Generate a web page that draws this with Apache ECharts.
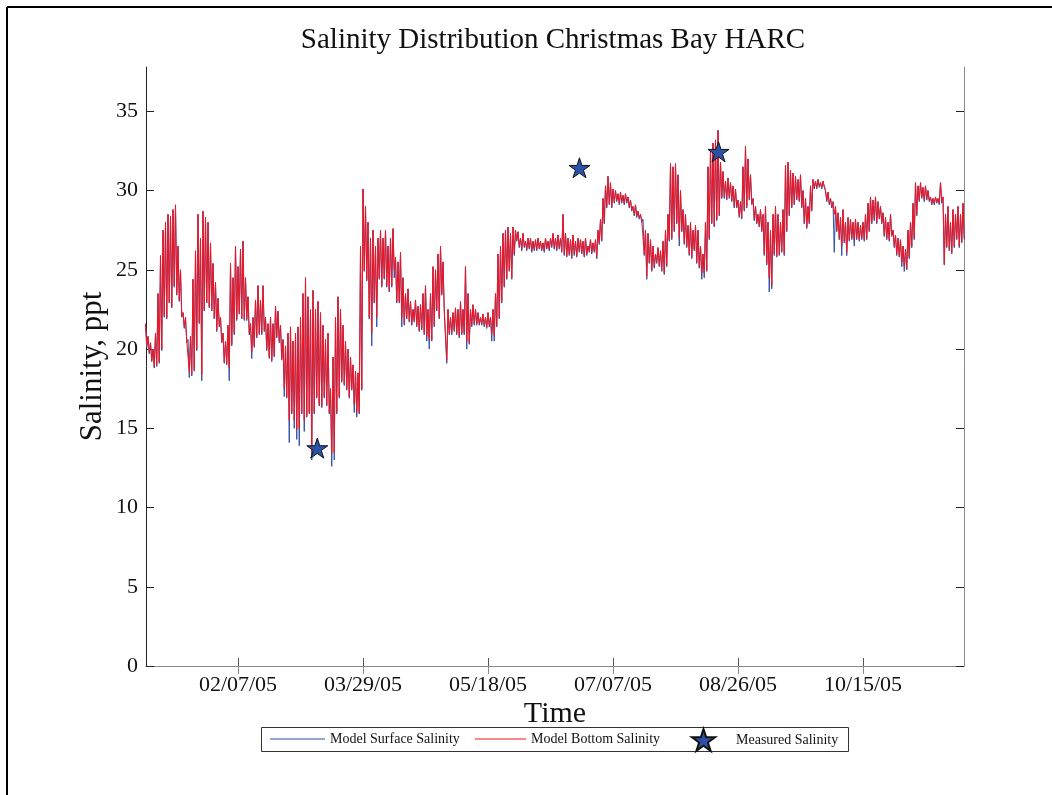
<!DOCTYPE html>
<html>
<head>
<meta charset="utf-8">
<script src="https://cdn.jsdelivr.net/npm/echarts@6/dist/echarts.min.js"></script>
<style>
  html, body { margin: 0; padding: 0; background: #fff; }
  #chart { width: 1052px; height: 795px; }
</style>
</head>
<body>
<div id="chart"></div>
<script>
// ---- data ----
const startDate = '2005-01-01';
const tickLabels = ['02/07/05', '03/29/05', '05/18/05', '07/07/05', '08/26/05', '10/15/05'];
const yTicks = [0, 5, 10, 15, 20, 25, 30, 35];

// daily high / low of the model bottom salinity (ppt), day 0 = Jan 1 2005
const bottomHi = [
  21.6,20.8,20.4,20.0,21.0,23.5,25.9,27.5,28.0,28.5,
  28.4,28.8,29.1,26.5,25.0,22.3,22.0,20.6,20.8,24.4,
  26.2,28.5,27.0,28.7,28.3,28.0,26.7,25.4,24.2,23.2,
  22.0,21.0,20.5,21.5,25.4,24.5,26.5,25.2,26.3,26.8,
  24.5,23.3,21.6,22.0,23.1,24.0,23.1,24.0,22.0,21.6,
  22.0,21.6,22.7,22.4,21.5,20.6,20.2,21.0,21.4,20.5,
  21.0,21.4,22.0,23.5,24.5,23.3,22.5,23.7,22.5,23.0,
  22.3,21.5,20.6,21.0,17.5,19.5,22.0,23.3,22.5,21.5,
  20.5,20.0,19.5,19.0,18.6,18.5,26.5,30.1,29.0,28.0,
  27.0,27.5,26.5,27.0,27.5,27.0,27.5,26.5,27.0,27.6,
  25.8,25.5,26.1,24.5,23.5,23.8,23.0,22.5,23.1,22.7,
  22.8,23.5,24.0,22.5,23.5,25.2,25.0,26.0,26.5,25.5,
  22.5,22.5,22.0,22.3,22.6,22.5,23.0,22.5,25.2,23.5,
  22.5,22.8,22.5,22.3,22.0,22.2,22.0,22.3,22.0,22.5,
  23.5,26.0,26.5,27.3,27.5,27.7,27.3,27.7,27.5,27.4,
  27.0,27.3,26.8,27.0,27.0,26.8,26.9,27.0,26.8,26.7,
  27.0,26.8,27.0,27.3,27.0,27.2,27.0,28.5,27.3,27.0,
  26.9,27.2,26.8,27.0,26.9,26.8,27.0,26.5,26.9,26.7,
  26.9,27.5,28.2,29.5,30.3,30.9,30.5,30.1,30.0,29.8,
  29.9,29.7,29.8,29.6,29.4,29.0,29.1,28.7,28.5,28.2,
  27.5,27.3,26.9,26.5,26.0,26.4,26.2,26.8,27.5,28.5,
  31.7,31.5,31.7,31.0,30.0,28.8,28.5,27.8,28.0,27.5,
  27.8,27.5,26.5,26.0,28.0,31.5,32.6,33.0,33.2,33.8,
  31.8,31.2,30.6,30.8,30.5,30.3,30.1,29.4,29.3,31.5,
  32.8,32.0,31.0,29.5,29.0,28.5,28.8,28.5,29.0,28.0,
  27.5,28.5,29.0,28.5,28.0,28.8,31.6,31.8,31.3,31.1,
  30.9,30.7,31.0,30.0,29.5,29.0,30.3,30.7,30.6,30.7,
  30.5,30.6,30.0,29.9,29.5,29.3,29.0,28.6,28.3,28.8,
  28.0,28.3,28.2,28.0,28.2,28.0,27.8,28.0,28.5,29.2,
  29.6,29.4,29.6,29.3,29.0,28.6,28.3,28.0,28.5,27.5,
  27.2,27.0,26.9,26.5,26.3,27.5,28.0,29.2,30.5,30.3,
  30.5,30.2,30.3,30.0,29.6,29.5,29.6,29.5,30.5,29.6,
  28.5,29.0,28.0,28.8,28.5,29.0,28.5,29.2
];
const bottomLo = [
  20.2,19.8,19.3,18.9,19.0,19.2,20.0,22.1,22.0,23.0,
  22.7,24.0,23.5,23.1,22.1,21.4,20.5,18.6,18.4,18.7,
  20.0,21.7,18.4,22.5,23.0,22.7,22.5,22.0,21.2,21.5,
  20.5,19.2,19.1,18.8,20.3,21.0,21.9,22.3,22.0,21.9,
  21.9,21.0,19.8,20.2,20.8,21.0,21.0,21.2,20.0,19.5,
  19.3,19.6,20.8,20.5,19.4,17.5,17.0,15.5,16.0,15.5,
  14.9,15.0,16.0,15.5,15.8,16.0,13.5,16.0,17.0,16.5,
  16.4,17.0,16.5,16.0,13.4,13.5,16.0,17.0,18.0,17.8,
  17.5,17.0,17.5,16.5,16.0,16.0,17.5,25.0,24.4,22.0,
  21.0,23.0,22.0,24.5,24.0,24.5,24.0,23.7,24.0,25.0,
  23.0,23.0,22.0,21.6,22.0,21.8,21.6,21.8,21.5,21.2,
  21.3,21.0,20.8,20.6,20.6,21.5,22.5,22.0,23.5,22.5,
  19.3,21.0,21.0,21.2,21.0,20.8,21.0,21.0,20.5,20.4,
  21.5,21.6,21.6,21.6,21.6,21.5,21.4,21.5,21.0,20.8,
  21.5,22.0,23.0,24.0,24.5,25.0,24.5,26.0,26.9,26.5,
  26.3,26.5,26.3,26.4,26.2,26.3,26.3,26.4,26.3,26.2,
  26.4,26.3,26.5,26.4,26.3,26.4,26.2,26.0,25.9,26.0,
  25.8,26.0,25.9,26.2,26.1,25.9,26.0,26.2,26.1,26.2,
  25.8,26.7,26.9,28.0,29.0,29.2,29.0,29.3,29.4,29.2,
  29.3,29.2,29.3,29.0,28.8,28.5,28.4,28.3,28.1,26.0,
  24.6,25.5,25.0,25.2,25.5,25.3,25.0,24.8,25.3,26.9,
  27.0,27.5,28.0,27.0,27.5,26.7,26.5,26.0,25.8,26.3,
  25.5,25.2,24.8,24.8,25.0,27.0,28.0,27.8,28.2,28.5,
  29.6,29.6,29.5,29.6,29.4,29.0,29.0,28.4,28.3,28.8,
  29.0,29.5,29.2,28.2,28.0,27.8,27.5,26.0,25.4,24.5,
  24.0,26.0,25.9,26.0,26.2,26.0,27.5,28.5,29.0,29.2,
  29.5,29.4,29.0,28.0,27.7,28.0,28.8,30.2,30.2,30.3,
  30.2,30.3,29.4,29.2,29.0,28.5,27.5,27.0,26.5,26.8,
  26.1,26.9,27.0,26.9,27.0,26.9,27.0,26.9,27.0,27.5,
  28.0,28.2,28.0,28.3,28.0,27.2,27.0,26.9,27.2,26.5,
  26.0,25.9,25.5,25.2,25.1,25.8,26.5,27.0,28.5,29.4,
  29.6,29.4,29.5,29.4,29.2,29.2,29.3,29.2,29.3,25.4,
  26.5,26.3,26.1,26.5,27.0,26.5,26.8,27.0
];
// daily low of the model surface salinity (its highs are hidden under the bottom curve)
const surfaceLo = [
  20.1,19.7,19.2,18.8,18.9,19.1,19.9,22.0,21.9,22.9,
  22.6,23.9,23.4,23.0,22.0,21.3,20.4,18.2,18.3,18.6,
  19.9,21.6,18.0,22.4,22.9,22.6,22.4,21.9,21.1,21.4,
  20.4,19.1,19.0,18.0,20.2,20.9,21.8,22.2,21.9,21.8,
  21.8,20.9,19.4,20.1,20.7,20.9,20.9,21.1,19.9,19.4,
  19.2,19.5,20.7,20.4,19.3,17.0,16.9,14.1,15.9,15.0,
  14.3,13.9,15.9,14.8,15.7,15.9,13.0,15.9,16.9,16.4,
  16.3,16.9,16.4,15.9,12.6,13.0,15.9,16.9,17.9,17.7,
  17.4,16.9,17.4,16.0,15.7,15.9,17.4,24.9,24.3,21.9,
  20.2,22.9,21.4,24.4,23.9,24.4,23.9,23.6,23.9,24.5,
  22.9,22.9,21.4,21.5,21.9,21.7,21.5,21.7,21.4,21.1,
  21.2,20.9,20.5,20.0,20.5,21.4,22.4,21.9,23.4,22.4,
  19.1,20.9,20.9,21.1,20.9,20.7,20.9,20.9,20.0,20.3,
  21.4,21.5,21.5,21.5,21.5,21.4,21.3,21.4,20.5,20.5,
  21.4,21.9,22.9,23.9,24.4,24.9,24.4,25.9,26.8,26.4,
  26.2,26.4,26.2,26.3,26.1,26.2,26.2,26.3,26.2,26.1,
  26.3,26.2,26.4,26.3,26.2,26.3,26.1,25.9,25.8,25.9,
  25.7,25.9,25.8,26.1,26.0,25.8,25.9,26.1,26.0,26.1,
  25.7,26.6,26.8,27.9,28.9,29.1,28.9,29.2,29.3,29.1,
  29.2,29.1,29.2,28.9,28.7,28.4,28.3,28.2,28.0,25.9,
  24.4,25.4,24.9,25.1,25.4,25.2,24.9,24.7,25.2,26.8,
  26.9,27.4,27.9,26.5,27.4,26.6,26.4,25.9,25.7,26.2,
  25.4,25.1,24.4,24.5,24.9,26.9,27.9,27.7,28.1,28.4,
  29.5,29.5,29.4,29.5,29.3,28.9,28.9,28.3,28.2,28.7,
  28.9,29.4,29.1,28.1,27.9,27.7,27.4,25.9,25.3,23.6,
  23.8,25.9,25.8,25.9,26.1,25.9,27.4,28.4,28.9,29.1,
  29.4,29.3,28.9,27.9,27.6,27.9,28.7,30.1,30.1,30.2,
  30.1,30.2,29.3,29.1,28.9,26.1,27.4,26.9,25.9,26.7,
  25.9,26.8,26.9,26.5,26.9,26.8,26.9,26.8,26.9,27.4,
  27.9,28.1,27.9,28.2,27.9,27.1,26.9,26.8,27.1,26.4,
  25.9,25.8,25.2,24.9,25.0,25.7,26.4,26.9,28.4,29.3,
  29.5,29.3,29.4,29.3,29.1,29.1,29.2,29.1,29.2,25.3,
  26.4,26.2,26.0,26.4,26.9,26.4,26.7,26.9
];
const measuredDates = ['2005-03-10T17:00:00Z', '2005-06-23T14:00:00Z', '2005-08-18T05:00:00Z'];
const measuredValues = [13.75, 31.44, 32.45];

// ---- helpers ----
const DAY = 86400000;
const t0 = Date.parse(startDate + 'T00:00:00Z');
function labelToDay(lbl) {
  const [m, d, y] = lbl.split('/').map(Number);
  return (Date.UTC(2000 + y, m - 1, d) - t0) / DAY;
}
const tickDays = tickLabels.map(labelToDay);

const bottomPts = [];
const surfacePts = [];
for (let d = 0; d < bottomHi.length; d++) {
  bottomPts.push([d, bottomHi[d]], [d + 0.5, bottomLo[d]]);
  surfacePts.push([d, bottomHi[d]], [d + 0.5, surfaceLo[d]]);
}
const measuredPts = measuredDates.map((s, i) => [(Date.parse(s) - t0) / DAY, measuredValues[i]]);

const FONT = "'Liberation Serif', 'Times New Roman', serif";
const STAR = 'path://M100 0 L122.45 69.1 L195.1 69.1 L136.3 111.8 L158.8 180.9 L100 138.2 L41.2 180.9 L63.7 111.8 L4.9 69.1 L77.55 69.1 Z';
const LINE_ICON = 'path://M0 0 L100 0 L100 2 L0 2 Z';
const legendText = { fontFamily: FONT, fontSize: 14, color: '#111' };

const chart = echarts.init(document.getElementById('chart'), null, { renderer: 'canvas' });
chart.setOption({
  animation: false,
  backgroundColor: '#fff',
  title: {
    text: 'Salinity Distribution Christmas Bay HARC',
    left: 553, top: 26, textAlign: 'center', padding: 0,
    textStyle: { fontFamily: FONT, fontSize: 29, fontWeight: 'normal', color: '#111' }
  },
  grid: { left: 146, top: 67, width: 818, height: 599, containLabel: false },
  legend: [{
    left: 270, top: 732, padding: 0, itemWidth: 55, itemHeight: 22,
    textStyle: legendText,
    data: [{ name: 'Model Surface Salinity', icon: LINE_ICON }]
  }, {
    left: 475, top: 732, padding: 0, itemWidth: 51, itemHeight: 22,
    textStyle: legendText,
    data: [{ name: 'Model Bottom Salinity', icon: LINE_ICON }]
  }, {
    left: 691, top: 728, padding: 0, itemWidth: 23, itemHeight: 22,
    textStyle: Object.assign({ padding: [0, 0, 0, 16] }, legendText),
    data: [{ name: 'Measured Salinity' }]
  }],
  xAxis: [{
    type: 'value', position: 'bottom', min: 0.2, max: 327.4,
    axisLine: { show: true, lineStyle: { color: '#7a7a7a', width: 1 } },
    axisTick: { show: true, inside: true, length: 8, customValues: tickDays, lineStyle: { color: '#555' } },
    axisLabel: {
      customValues: tickDays, margin: 8,
      fontFamily: FONT, fontSize: 22, color: '#111',
      formatter: v => { const i = tickDays.findIndex(t => Math.abs(t - v) < 1e-6); return i >= 0 ? tickLabels[i] : ''; }
    },
    splitLine: { show: false },
    name: 'Time', nameLocation: 'middle', nameGap: 33, nameMoveOverlap: false,
    nameTextStyle: { fontFamily: FONT, fontSize: 30, color: '#111' }
  }, {
    type: 'value', position: 'top', min: 0.2, max: 327.4,
    axisLine: { show: true, lineStyle: { color: '#8a8a8a', width: 1 } },
    axisTick: { show: true, inside: true, length: 8, customValues: tickDays, lineStyle: { color: '#8a8a8a' } },
    axisLabel: { show: false }, splitLine: { show: false }
  }],
  yAxis: [{
    type: 'value', position: 'left', min: 0, max: 37.8,
    axisLine: { show: true, lineStyle: { color: '#222', width: 1 } },
    axisTick: { show: true, inside: true, length: 8, customValues: yTicks, lineStyle: { color: '#222' } },
    axisLabel: { customValues: yTicks, margin: 8, fontFamily: FONT, fontSize: 22, color: '#111' },
    splitLine: { show: false },
    name: 'Salinity, ppt', nameLocation: 'middle', nameGap: 38, nameMoveOverlap: false,
    nameTextStyle: { fontFamily: FONT, fontSize: 31, color: '#111' }
  }, {
    type: 'value', position: 'right', min: 0, max: 37.8,
    axisLine: { show: true, lineStyle: { color: '#8a8a8a', width: 1 } },
    axisTick: { show: true, inside: true, length: 8, customValues: yTicks, lineStyle: { color: '#222' } },
    axisLabel: { show: false }, splitLine: { show: false }
  }],
  graphic: [
    { type: 'line', shape: { x1: 7, y1: 7, x2: 1052, y2: 7 }, style: { stroke: '#000', lineWidth: 2 }, silent: true },
    { type: 'line', shape: { x1: 7, y1: 7, x2: 7, y2: 795 }, style: { stroke: '#000', lineWidth: 2 }, silent: true },
    { type: 'rect', shape: { x: 261.5, y: 727.5, width: 587, height: 24 }, style: { fill: 'none', stroke: '#333', lineWidth: 1 }, silent: true }
  ],
  series: [{
    name: 'Model Surface Salinity', type: 'line', data: surfacePts,
    xAxisIndex: 0, yAxisIndex: 0, symbol: 'none', sampling: null,
    lineStyle: { color: '#3050a8', width: 1 }, itemStyle: { color: '#3050a8' }, z: 2
  }, {
    name: 'Model Bottom Salinity', type: 'line', data: bottomPts,
    xAxisIndex: 0, yAxisIndex: 0, symbol: 'none', sampling: null,
    lineStyle: { color: '#f5141e', width: 1 }, itemStyle: { color: '#f5141e' }, z: 3
  }, {
    name: 'Measured Salinity', type: 'scatter', data: measuredPts,
    xAxisIndex: 0, yAxisIndex: 0, symbol: STAR, symbolSize: 21, symbolKeepAspect: true,
    itemStyle: { color: '#2a52a8', borderColor: '#111', borderWidth: 1, opacity: 1 }, z: 5
  }]
});
</script>
</body>
</html>
